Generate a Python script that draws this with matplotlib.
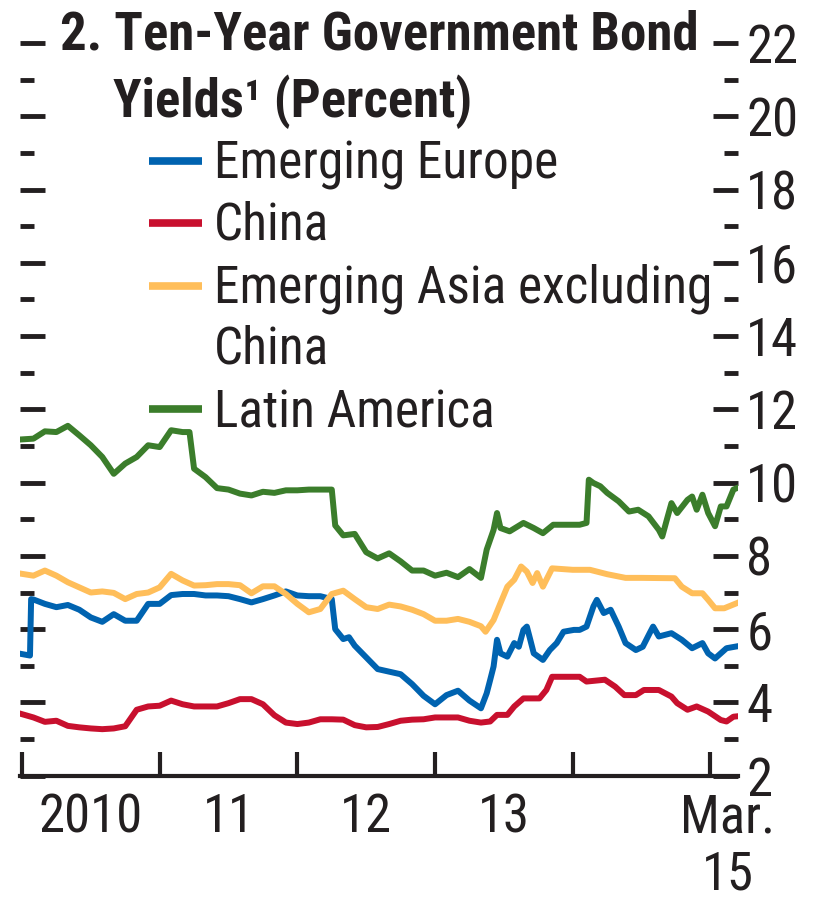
import matplotlib
matplotlib.use('Agg')
import matplotlib.pyplot as plt
from matplotlib import font_manager
from matplotlib.lines import Line2D

# the original uses a condensed grotesk; take the first condensed face that is installed
names = {f.name for f in font_manager.fontManager.ttflist}
face = 'DejaVu Sans'
for cand in ['Liberation Sans Narrow', 'Roboto Condensed', 'Barlow Semi Condensed', 'Asap Condensed']:
    if cand in names:
        face = cand
        break
plt.rcParams['font.family'] = [face, 'DejaVu Sans']

ink = '#231f20'

# months since Jan 2010, values in percent
europe_m = [0, 0.7, 0.8, 1, 2, 3, 4, 5, 6, 7, 8, 9, 10, 11, 12, 13, 14, 15, 16, 17, 18, 19, 20,
            21, 22, 23, 24, 25, 26, 27, 27.3, 28, 28.5, 29, 30, 31, 32, 33, 34, 35, 36, 37, 38,
            39, 40, 40.5, 40.8, 41.1, 41.4, 41.7, 42.3, 42.9, 43.3, 43.7, 44.0, 44.3, 44.6,
            45.4, 46.0, 46.6, 47.2, 48.1, 48.6, 49.2, 49.8, 50.1, 50.7, 51.3, 52.0, 52.6,
            53.5, 54.1, 54.7, 55.0, 55.5, 56.6, 57.5, 58.4, 59.3, 59.8, 60.4, 60.9, 61.4, 62.3]
europe_v = [5.32, 5.28, 6.82, 6.81, 6.69, 6.6, 6.66, 6.53, 6.32, 6.2, 6.41, 6.23, 6.23, 6.69,
            6.69, 6.93, 6.96, 6.96, 6.92, 6.92, 6.9, 6.82, 6.73, 6.82, 6.92, 7.03, 6.92, 6.9,
            6.9, 6.82, 6.0, 5.73, 5.78, 5.55, 5.23, 4.91, 4.84, 4.77, 4.5, 4.18, 3.95, 4.2,
            4.32, 4.05, 3.84, 4.25, 4.61, 4.98, 5.71, 5.34, 5.25, 5.62, 5.52, 5.98, 6.07,
            5.71, 5.34, 5.16, 5.43, 5.62, 5.93, 5.98, 5.98, 6.07, 6.62, 6.8, 6.44, 6.53,
            6.07, 5.62, 5.43, 5.52, 5.89, 6.07, 5.8, 5.89, 5.71, 5.48, 5.62, 5.34, 5.2,
            5.34, 5.48, 5.53]

china_m = [0, 1, 2, 3, 4, 5, 6, 7, 8, 9, 10, 11, 12, 13, 14, 15, 16, 17, 18, 19, 20, 21, 22,
           23, 24, 25, 26, 27, 28, 29, 30, 31, 32, 33, 34, 35, 36, 37, 38, 39, 40, 40.8, 41.4,
           42.3, 42.9, 43.7, 45.1, 45.7, 46.2, 48.6, 49.2, 50.8, 51.7, 52.5, 53.5, 54.2, 55.5,
           56.6, 57.1, 58.0, 58.8, 59.8, 60.9, 61.4, 62.0, 62.3]
china_v = [3.68, 3.59, 3.47, 3.5, 3.36, 3.32, 3.29, 3.27, 3.29, 3.35, 3.8, 3.89, 3.91, 4.05,
           3.95, 3.89, 3.89, 3.89, 3.98, 4.09, 4.09, 3.95, 3.65, 3.45, 3.41, 3.45, 3.54, 3.54,
           3.53, 3.38, 3.32, 3.33, 3.41, 3.5, 3.53, 3.54, 3.59, 3.59, 3.59, 3.5, 3.45, 3.48,
           3.66, 3.66, 3.89, 4.11, 4.11, 4.34, 4.7, 4.7, 4.57, 4.62, 4.43, 4.2, 4.2, 4.34,
           4.34, 4.16, 3.98, 3.8, 3.89, 3.75, 3.52, 3.48, 3.61, 3.62]

asia_m = [0, 1, 2, 3, 4, 5, 6, 7, 8, 9, 10, 11, 12, 13, 14, 15, 16, 17, 18, 19, 20, 21, 22,
          23, 24, 25, 26, 27, 28, 29, 30, 31, 32, 33, 34, 35, 36, 37, 38, 39, 40, 40.4, 41.1,
          41.7, 42.3, 42.9, 43.5, 44.0, 44.5, 44.9, 45.4, 45.7, 46.2, 48.0, 49.5, 51.0, 52.6,
          54.0, 56.9, 57.5, 58.4, 59.3, 59.8, 60.4, 61.2, 62.3]
asia_v = [7.51, 7.46, 7.6, 7.46, 7.28, 7.14, 7.0, 7.03, 6.99, 6.82, 6.96, 7.0, 7.14, 7.51,
          7.33, 7.19, 7.2, 7.23, 7.23, 7.2, 6.98, 7.17, 7.17, 6.96, 6.69, 6.46, 6.55, 6.96,
          7.05, 6.82, 6.6, 6.55, 6.67, 6.62, 6.53, 6.41, 6.23, 6.23, 6.28, 6.2, 6.08, 5.93,
          6.25, 6.71, 7.16, 7.35, 7.71, 7.57, 7.26, 7.53, 7.16, 7.35, 7.66, 7.62, 7.62, 7.5,
          7.4, 7.4, 7.39, 7.16, 6.98, 6.98, 6.8, 6.57, 6.57, 6.71]

latam_m = [0, 1, 2, 3, 4, 5, 6, 7, 8, 9, 10, 11, 12, 13, 14, 14.6, 15, 16, 17, 18, 19, 20,
           21, 22, 23, 24, 25, 26, 27, 27.3, 28, 29, 30, 31, 32, 33, 34, 35, 36, 37, 38, 39,
           40, 40.5, 41.1, 41.4, 41.7, 42.5, 43.7, 44.6, 45.4, 46.3, 48.6, 49.2, 49.4, 49.8,
           50.4, 51.0, 52.0, 52.9, 53.7, 54.6, 55.5, 55.8, 56.2, 56.6, 57.1, 58.0, 58.4, 58.8,
           59.3, 59.8, 60.4, 60.9, 61.4, 62.0, 62.3]
latam_v = [11.18, 11.2, 11.4, 11.38, 11.55, 11.29, 11.02, 10.7, 10.24, 10.52, 10.7, 11.02,
           10.97, 11.43, 11.38, 11.38, 10.38, 10.15, 9.85, 9.81, 9.7, 9.65, 9.75, 9.72, 9.79,
           9.79, 9.81, 9.81, 9.81, 8.83, 8.56, 8.6, 8.1, 7.93, 8.07, 7.85, 7.6, 7.6, 7.46,
           7.54, 7.42, 7.64, 7.4, 8.17, 8.71, 9.17, 8.76, 8.67, 8.9, 8.76, 8.62, 8.85, 8.85,
           8.9, 10.08, 9.99, 9.9, 9.72, 9.49, 9.21, 9.26, 9.08, 8.71, 8.53, 8.99, 9.44, 9.17,
           9.53, 9.62, 9.26, 9.67, 9.17, 8.81, 9.35, 9.35, 9.81, 9.85]

labels = ['Emerging Europe', 'China', 'Emerging Asia excluding', 'Latin America']
colors = ['#0063b0', '#c8102e', '#ffbe5a', '#3b7d2b']

year_ticks = [0, 12, 24, 36, 48, 60]
year_label_pos = [6, 18, 30, 42, 61.5]
year_labels = ['2010', '11', '12', '13', 'Mar.\n15']

fs = 38

fig = plt.figure(figsize=(8.15, 9), dpi=100)
ax = fig.add_axes([20 / 815, 1 - 775.7 / 900, 718 / 815, 732.7 / 900])

series = [(europe_m, europe_v), (china_m, china_v), (asia_m, asia_v), (latam_m, latam_v)]
for (m, v), c in zip(series, colors):
    ax.plot(m, v, color=c, lw=4.3)

ax.set_xlim(-0.17, 62.4)
ax.set_ylim(2, 22)
for s in ['top', 'left', 'right']:
    ax.spines[s].set_visible(False)
ax.spines['bottom'].set_linewidth(3)
ax.spines['bottom'].set_color(ink)

ax.set_yticks(range(2, 23, 2))
ax.set_yticks(range(3, 22, 2), minor=True)
ax.tick_params(axis='y', which='both', direction='in', left=True, right=True,
               labelleft=False, labelright=True, width=3.5, color=ink,
               labelsize=fs, labelcolor=ink, pad=6)
ax.tick_params(axis='y', which='major', length=18)
ax.tick_params(axis='y', which='minor', length=10)

ax.set_xticks(year_ticks)
ax.set_xticklabels([])
ax.set_xticks(year_label_pos, minor=True)
ax.set_xticklabels(year_labels, minor=True, linespacing=1.15)
ax.tick_params(axis='x', which='major', direction='in', length=17, width=3, color=ink)
ax.tick_params(axis='x', which='minor', length=0, pad=12, labelsize=fs, labelcolor=ink)

# title, hanging indent
fig.text(60 / 815, 1 - 50 / 900, '2. Ten-Year Government Bond', fontsize=fs,
         fontweight='bold', color=ink, va='baseline')
fig.text(113 / 815, 1 - 117 / 900, 'Yields\u00b9 (Percent)', fontsize=fs,
         fontweight='bold', color=ink, va='baseline')

# hand-placed legend
key_y = [161, 223, 286, 409]
text_y = [178, 240, 302, 427]
for lab, c, ky, ty in zip(labels, colors, key_y, text_y):
    fig.add_artist(Line2D([149 / 815, 202 / 815], [1 - ky / 900, 1 - ky / 900],
                          color=c, lw=5.5, solid_capstyle='butt'))
    fig.text(214 / 815, 1 - ty / 900, lab, fontsize=37, color=ink, va='baseline')
fig.text(214 / 815, 1 - 364 / 900, 'China', fontsize=37, color=ink, va='baseline')

fig.savefig('out.png', dpi=100)
